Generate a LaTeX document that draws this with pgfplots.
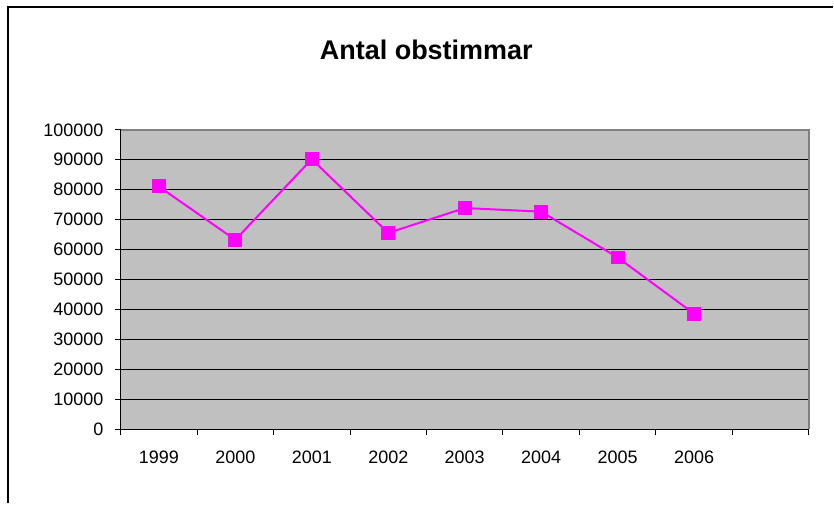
\documentclass[border=0pt]{standalone}
\usepackage{pgfplots}
\pgfplotsset{compat=1.18}
\usepackage{fontspec}
\setmainfont{Liberation Sans}
\definecolor{plotbg}{HTML}{C0C0C0}
\definecolor{mag}{HTML}{FF00FF}
\definecolor{frgray}{HTML}{808080}
\begin{document}
\begin{tikzpicture}
\path (0,0) rectangle (417pt,252pt);
\draw[line width=1pt] (4.2pt,0pt) -- (4.2pt,248.4pt) -- (417pt,248.4pt);
\node[font=\bfseries\fontsize{13.5}{15}\selectfont] at (213.4pt,227pt) {Antal obstimmar};
\begin{axis}[
  at={(60.35pt,37pt)}, anchor=south west,
  scale only axis, width=344.6pt, height=150pt,
  xmin=-0.5, xmax=8.5, ymin=0, ymax=100000,
  axis background/.style={fill=plotbg},
  axis x line=bottom, axis y line=left,
  axis line style={-, black, line width=0.6pt},
  tick align=outside, major tick length=2.6pt,
  tick style={black, line width=0.5pt},
  xtick={-0.5,0.5,...,8.5}, xticklabel={\relax},
  extra x ticks={0,1,2,3,4,5,6,7},
  extra x tick labels={1999,2000,2001,2002,2003,2004,2005,2006},
  extra x tick style={major tick length=0pt, grid=none},
  xticklabel style={yshift=-7pt},
  ytick={0,10000,...,100000},
  yticklabel={\pgfmathprintnumber[fixed,precision=0,1000 sep={}]{\tick}},
  yticklabel style={xshift=-2.5pt},
  ymajorgrids, grid style={black, line width=0.5pt},
  ticklabel style={font=\fontsize{9}{10}\selectfont},
  /pgf/number format/assume math mode=true,
  scaled y ticks=false,
  clip=false,
]
\draw[frgray, line width=0.8pt] (rel axis cs:0,1) -- (rel axis cs:1,1) -- (rel axis cs:1,0);
\addplot[mag, line width=1pt, mark=square*, mark size=3pt, mark options={fill=mag, draw=mag}]
 coordinates {(0,81100) (1,63300) (2,90200) (3,65600) (4,73900) (5,72700) (6,57400) (7,38600)};
\end{axis}
\end{tikzpicture}
\end{document}
